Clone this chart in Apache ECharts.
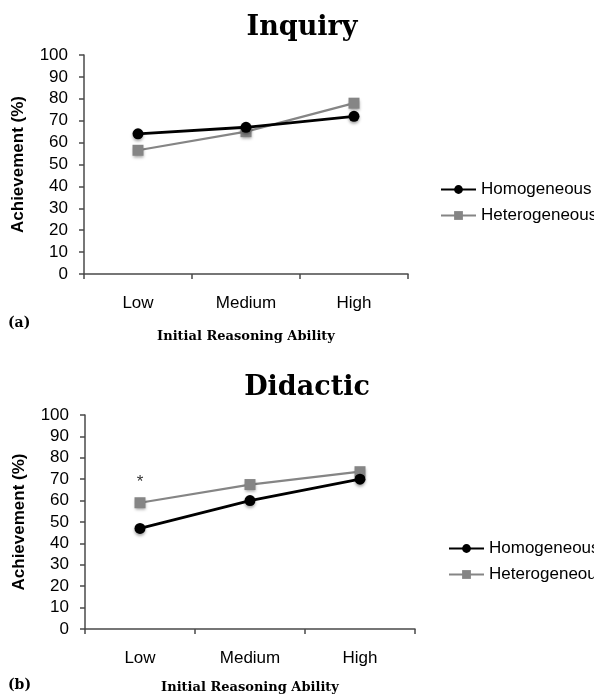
<!DOCTYPE html>
<html>
<head>
<meta charset="utf-8">
<script src="https://cdn.jsdelivr.net/npm/echarts@6/dist/echarts.min.js"></script>
<style>
html,body{margin:0;padding:0;background:#fff;}
#chart{width:594px;height:700px;}
</style>
</head>
<body>
<div id="chart"></div>
<script>
// ---- data ----
var categories = ['Low', 'Medium', 'High'];
var yTicks = [0, 100, 10]; // min, max, interval
var inquiryHomogeneous = [64, 67, 72];
var inquiryHeterogeneous = [56.5, 65, 78];
var didacticHomogeneous = [47, 60, 70];
var didacticHeterogeneous = [59, 67.5, 73.5];
var didacticHeteroMarks = ['*', '', ''];
var seriesNames = ['Homogeneous', 'Heterogeneous'];
var panelTitles = ['Inquiry', 'Didactic'];
var panelTags = ['(a)', '(b)'];
var xName = 'Initial Reasoning Ability';
var yName = 'Achievement (%)';

var sans = 'Liberation Sans, Arial, sans-serif';
var serif = 'DejaVu Serif, serif';
var axisColor = '#4a4a4a';

function xAxis(gridIndex, gap) {
  return {
    type: 'category', gridIndex: gridIndex, data: categories, boundaryGap: true,
    axisLine: {lineStyle: {color: axisColor, width: 1.5}},
    axisTick: {show: true, length: 5, alignWithLabel: false, lineStyle: {color: axisColor, width: 1.5}},
    axisLabel: {color: '#000', fontFamily: sans, fontSize: 17, margin: 21},
    name: xName, nameLocation: 'middle', nameGap: gap,
    nameTextStyle: {fontFamily: serif, fontWeight: 'bold', fontSize: 13, color: '#000'}
  };
}
function yAxis(gridIndex) {
  return {
    type: 'value', gridIndex: gridIndex, min: yTicks[0], max: yTicks[1], interval: yTicks[2],
    splitLine: {show: false},
    axisLine: {show: true, lineStyle: {color: axisColor, width: 1.5}},
    axisTick: {show: true, length: 5, lineStyle: {color: axisColor, width: 1.5}},
    axisLabel: {color: '#000', fontFamily: sans, fontSize: 17, margin: 16},
    name: yName, nameLocation: 'middle', nameRotate: 90, nameGap: 57,
    nameTextStyle: {fontFamily: sans, fontWeight: 'bold', fontSize: 17, color: '#000'}
  };
}
function lineSeries(name, data, idx, homo, marks) {
  var d = data.map(function (v, i) {
    if (marks && marks[i]) {
      return {value: v, label: {show: true, formatter: marks[i], position: 'top', distance: 6,
        color: '#333', fontFamily: sans, fontSize: 17}};
    }
    return v;
  });
  return {
    name: name, type: 'line', xAxisIndex: idx, yAxisIndex: idx, data: d,
    symbol: homo ? 'circle' : 'rect', symbolSize: 11,
    lineStyle: {color: homo ? '#000' : '#858585', width: homo ? 2.8 : 2.2},
    itemStyle: {color: homo ? '#000' : '#858585', shadowColor: 'rgba(0,0,0,0.35)', shadowBlur: 3, shadowOffsetY: 2},
    z: homo ? 3 : 2
  };
}

var chart = echarts.init(document.getElementById('chart'), null, {renderer: 'canvas'});
chart.setOption({
  animation: false,
  backgroundColor: '#fff',
  title: [
    {text: panelTitles[0], left: 297, top: 9, textAlign: 'center',
      textStyle: {fontFamily: serif, fontWeight: 'bold', fontSize: 27, color: '#000'}},
    {text: panelTitles[1], left: 302, top: 369, textAlign: 'center',
      textStyle: {fontFamily: serif, fontWeight: 'bold', fontSize: 27, color: '#000'}}
  ],
  grid: [
    {left: 84, top: 55, width: 324, height: 219},
    {left: 85, top: 415, width: 330, height: 214}
  ],
  legend: [
    {orient: 'vertical', left: 435, top: 176, itemWidth: 35, itemHeight: 11, itemGap: 9,
      data: seriesNames, textStyle: {fontFamily: sans, fontSize: 17, color: '#000'}},
    {orient: 'vertical', left: 443, top: 535, itemWidth: 35, itemHeight: 11, itemGap: 9,
      data: seriesNames, textStyle: {fontFamily: sans, fontSize: 17, color: '#000'}}
  ],
  xAxis: [xAxis(0, 56), xAxis(1, 52)],
  yAxis: [yAxis(0), yAxis(1)],
  series: [
    lineSeries(seriesNames[0], inquiryHomogeneous, 0, true),
    lineSeries(seriesNames[1], inquiryHeterogeneous, 0, false),
    lineSeries(seriesNames[0], didacticHomogeneous, 1, true),
    lineSeries(seriesNames[1], didacticHeterogeneous, 1, false, didacticHeteroMarks)
  ],
  graphic: [
    {type: 'text', left: 8, top: 316, style: {text: panelTags[0], font: 'bold 14px DejaVu Serif', fill: '#000'}},
    {type: 'text', left: 8, top: 678, style: {text: panelTags[1], font: 'bold 14px DejaVu Serif', fill: '#000'}}
  ]
});
</script>
</body>
</html>
